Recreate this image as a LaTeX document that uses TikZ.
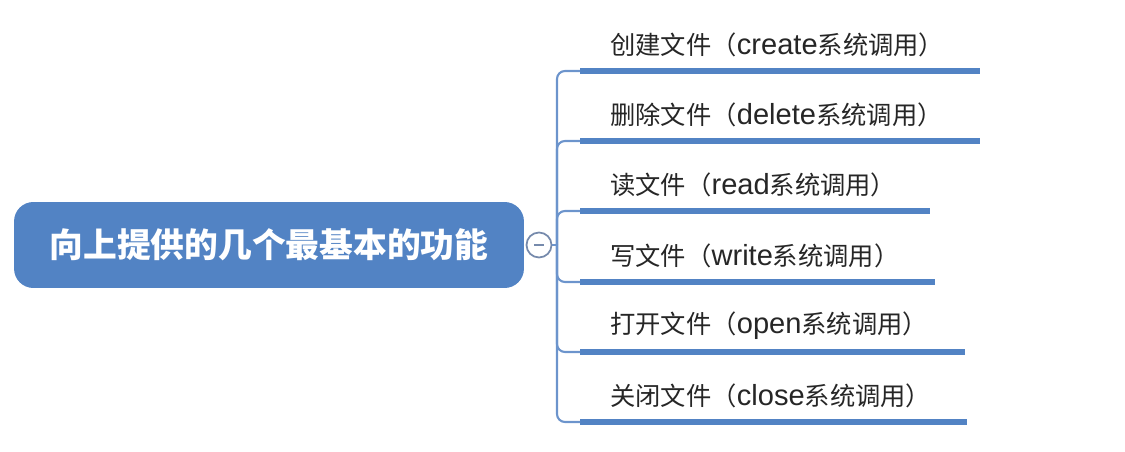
\documentclass[tikz,border=0pt]{standalone}
\usepackage{fontspec}
\newfontfamily\cjk{Noto Sans CJK SC}
\newfontfamily\lat[Scale=1.15]{Liberation Sans}
\usetikzlibrary{positioning}
\definecolor{topicblue}{RGB}{82,131,196}
\definecolor{linkblue}{RGB}{108,148,204}
\definecolor{foldgray}{RGB}{118,138,172}
\tikzstyle{central} = [rectangle, rounded corners=11pt, minimum width=10.2cm, minimum height=1.72cm, text centered, fill=topicblue, text=white, font=\cjk\bfseries\fontsize{19.2}{22}\selectfont]
\tikzstyle{fold} = [circle, draw=foldgray, fill=white, line width=1pt, minimum size=0.5cm, inner sep=0pt]
\tikzstyle{leaf} = [anchor=west, inner sep=0pt, text=black!85, font=\cjk\fontsize{14.4}{16}\selectfont]
\tikzstyle{underline} = [topicblue, line width=3.4pt]
\tikzstyle{link} = [linkblue, line width=1.2pt, rounded corners=4.5pt]

\begin{document}
\begin{tikzpicture}[x=0.02cm, y=-0.02cm]
    \useasboundingbox (0,0) rectangle (1125,452);

    \node (root) [central] at (269,245) {向上提供的几个最基本的功能};
    \node (fold) [fold] at (539,245) {};
    \draw [foldgray, line width=1pt] ([xshift=-2.8pt]fold.center) -- ([xshift=2.8pt]fold.center);
    \coordinate (hub) at (557,245);

    % underline start / end points
    \coordinate (s1) at (580,71);  \coordinate (e1) at (980,71);
    \coordinate (s2) at (580,141); \coordinate (e2) at (980,141);
    \coordinate (s3) at (580,211); \coordinate (e3) at (930,211);
    \coordinate (s4) at (580,282); \coordinate (e4) at (935,282);
    \coordinate (s5) at (580,352); \coordinate (e5) at (965,352);
    \coordinate (s6) at (580,422); \coordinate (e6) at (967,422);

    \node (create) [leaf] at (610,45)  {创建文件（{\lat create}系统调用）};
    \node (delete) [leaf] at (610,115) {删除文件（{\lat delete}系统调用）};
    \node (read)   [leaf] at (610,185) {读文件（{\lat read}系统调用）};
    \node (write)  [leaf] at (610,256) {写文件（{\lat write}系统调用）};
    \node (open)   [leaf] at (610,326) {打开文件（{\lat open}系统调用）};
    \node (close)  [leaf] at (610,396) {关闭文件（{\lat close}系统调用）};

    \draw [underline] (s1) -- (e1);
    \draw [underline] (s2) -- (e2);
    \draw [underline] (s3) -- (e3);
    \draw [underline] (s4) -- (e4);
    \draw [underline] (s5) -- (e5);
    \draw [underline] (s6) -- (e6);

    \draw [link] (fold.east) -- (hub);
    \draw [link] (hub) |- (s1);
    \draw [link] (hub) |- (s2);
    \draw [link] (hub) |- (s3);
    \draw [link] (hub) |- (s4);
    \draw [link] (hub) |- (s5);
    \draw [link] (hub) |- (s6);
\end{tikzpicture}
\end{document}
